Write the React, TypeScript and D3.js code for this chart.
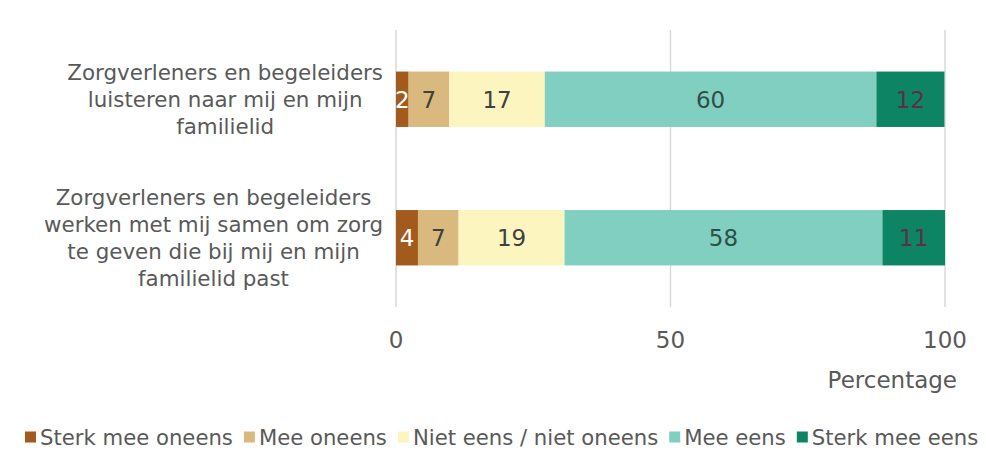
import React, { useEffect, useRef } from "react";
import * as d3 from "d3";

const categories = [
  "Zorgverleners en begeleiders luisteren naar mij en mijn familielid",
  "Zorgverleners en begeleiders werken met mij samen om zorg te geven die bij mij en mijn familielid past",
];
const categoryLines = [
  ["Zorgverleners en begeleiders", "luisteren naar mij en mijn", "familielid"],
  ["Zorgverleners en begeleiders", "werken met mij samen om zorg", "te geven die bij mij en mijn", "familielid past"],
];
const seriesNames = ["Sterk mee oneens", "Mee oneens", "Niet eens / niet oneens", "Mee eens", "Sterk mee eens"];
const sterkMeeOneens = [2.3, 4.0];
const meeOneens = [7.4, 7.4];
const nietEens = [17.4, 19.3];
const meeEens = [60.4, 57.9];
const sterkMeeEens = [12.4, 11.4];
const seriesLabels = [
  [2, 4],
  [7, 7],
  [17, 19],
  [60, 58],
  [12, 11],
];
const xTicks = [0, 50, 100];
const axisTitle = "Percentage";

const colors = ["#a25a1d", "#d9b97d", "#fdf5c0", "#80cfc1", "#0d8565"];
const labelColors = ["#ffffff", "#404040", "#404040", "#2f4f4a", "#5c3044"];
const FONT = "'DejaVu Sans', Verdana, sans-serif";
const TXT = "#595959";

export default function App() {
  const ref = useRef<SVGSVGElement | null>(null);
  useEffect(() => {
    const svg = d3.select(ref.current);
    svg.selectAll("*").remove();
    const W = 986, H = 466;
    const x = d3.scaleLinear().domain([0, 100]).range([396, 945]);
    const y = d3.scaleBand<string>().domain(categories).range([30, 307]).paddingInner(0.6).paddingOuter(0.3);
    const series = [sterkMeeOneens, meeOneens, nietEens, meeEens, sterkMeeEens];

    svg.append("rect").attr("width", W).attr("height", H).attr("fill", "#fff");

    // gridlines
    svg.append("g").selectAll("line").data(xTicks).join("line")
      .attr("x1", (d) => x(d)).attr("x2", (d) => x(d))
      .attr("y1", 30).attr("y2", 307)
      .attr("stroke", "#d9d9d9").attr("stroke-width", 1.5);

    // bars
    categories.forEach((c, ci) => {
      let cum = 0;
      series.forEach((s, si) => {
        const v = s[ci];
        const x0 = x(cum), x1 = x(cum + v);
        svg.append("rect").attr("x", x0).attr("y", y(c)!).attr("width", x1 - x0).attr("height", y.bandwidth())
          .attr("fill", colors[si]);
        svg.append("text").attr("x", (x0 + x1) / 2).attr("y", y(c)! + y.bandwidth() / 2)
          .attr("dy", "0.36em").attr("text-anchor", "middle")
          .attr("font-family", FONT).attr("font-size", 23).attr("fill", labelColors[si])
          .text(String(seriesLabels[si][ci]));
        cum += v;
      });
    });

    // category labels
    categories.forEach((c, ci) => {
      const lines = categoryLines[ci];
      const g = svg.append("g");
      const texts = lines.map((l) =>
        g.append("text").attr("font-family", FONT).attr("font-size", 21.4).attr("fill", TXT)
          .attr("text-anchor", "middle").text(l)
      );
      const maxW = d3.max(texts, (t) => (t.node() as SVGTextElement).getComputedTextLength()) || 0;
      const cx = 383 - maxW / 2;
      const lh = 27;
      const cy = y(c)! + y.bandwidth() / 2;
      const top = cy - ((lines.length - 1) * lh) / 2;
      texts.forEach((t, i) => t.attr("x", cx).attr("y", top + i * lh).attr("dy", "0.36em"));
    });

    // tick labels
    svg.append("g").selectAll("text").data(xTicks).join("text")
      .attr("x", (d) => x(d)).attr("y", 340).attr("dy", "0.36em").attr("text-anchor", "middle")
      .attr("font-family", FONT).attr("font-size", 23).attr("fill", TXT).text((d) => String(d));

    svg.append("text").attr("x", 957).attr("y", 380).attr("dy", "0.36em").attr("text-anchor", "end")
      .attr("font-family", FONT).attr("font-size", 23).attr("fill", TXT).text(axisTitle);

    // legend
    let lx = 25;
    const ly = 437;
    seriesNames.forEach((n, i) => {
      svg.append("rect").attr("x", lx).attr("y", ly - 5.5).attr("width", 11).attr("height", 11).attr("fill", colors[i]);
      const t = svg.append("text").attr("x", lx + 15).attr("y", ly).attr("dy", "0.36em")
        .attr("font-family", FONT).attr("font-size", 21.2).attr("fill", TXT).text(n);
      const w = (t.node() as SVGTextElement).getComputedTextLength();
      lx = lx + 15 + w + 11;
    });
  }, []);
  return (
    <svg ref={ref} width={986} height={466} style={{ display: "block", position: "absolute", left: 0, top: 0 }} />
  );
}
